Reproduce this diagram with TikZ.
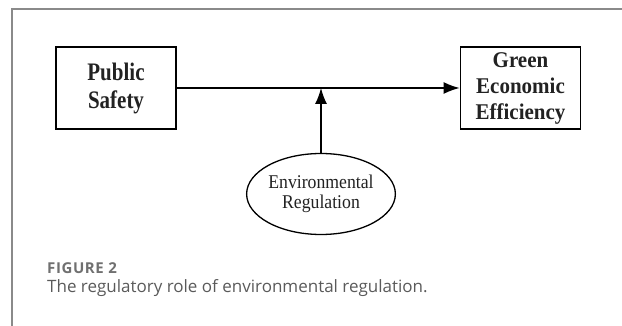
\documentclass[tikz,border=0pt]{standalone}
\usepackage{fontspec}
\setmainfont{Liberation Serif}
\newfontfamily\capfont{Open Sans}
\newfontfamily\numfont[LetterSpace=4]{Open Sans}
\usepackage{graphicx}
\usepackage{tikz}
\usetikzlibrary{shapes.geometric}
\usetikzlibrary{arrows.meta}

\definecolor{framegray}{HTML}{8A8A8A}
\definecolor{capgray}{HTML}{5A5A5A}
\definecolor{numgray}{HTML}{707070}
\definecolor{inkgray}{HTML}{222222}

\newcommand{\tall}[2]{\scalebox{1}[#1]{#2}}

\begin{document}
\begin{tikzpicture}[x=1pt,y=-1pt,
    every node/.style={inner sep=0pt},
    varbox/.style={draw,line width=1.8pt,minimum width=120pt,minimum height=82pt,align=center,text=inkgray,font=\fontsize{21}{26}\selectfont\bfseries},
    modellipse/.style={draw,ellipse,line width=1.3pt,minimum width=132pt,minimum height=81pt,align=center,text=inkgray,font=\fontsize{17.7}{20}\selectfont},
    link/.style={line width=1.4pt,-{Latex[length=16pt,width=12pt]}}]
            \useasboundingbox (0,0) rectangle (622,326);
            \draw[framegray,line width=1.2pt] (12,326) -- (12,9) -- (622,9);

            \node[varbox,font=\fontsize{21}{28}\selectfont\bfseries] (safety) at (116,88) {\tall{1.2}{Public}\\\tall{1.2}{Safety}};
            \node[varbox] (green) at (520.5,88) {\tall{1.07}{Green}\\\tall{1.07}{Economic}\\\tall{1.07}{Efficiency}};
            \node[modellipse] (regul) at (321,194) {\tall{1.1}{Environmental}\\\tall{1.1}{Regulation}};
            \coordinate (meet) at (321,88);

            \draw[link] (safety) -- (green);
            \draw[link] (regul) -- (meet);

            \node[anchor=base west,text=numgray,font=\numfont\fontsize{15}{17}\selectfont\bfseries] (fignum) at (47,274) {FIGURE 2};
            \node[anchor=base west,text=capgray,font=\capfont\fontsize{17}{20}\selectfont] (figcap) at (47,292) {The regulatory role of environmental regulation.};
        \end{tikzpicture}
\end{document}
